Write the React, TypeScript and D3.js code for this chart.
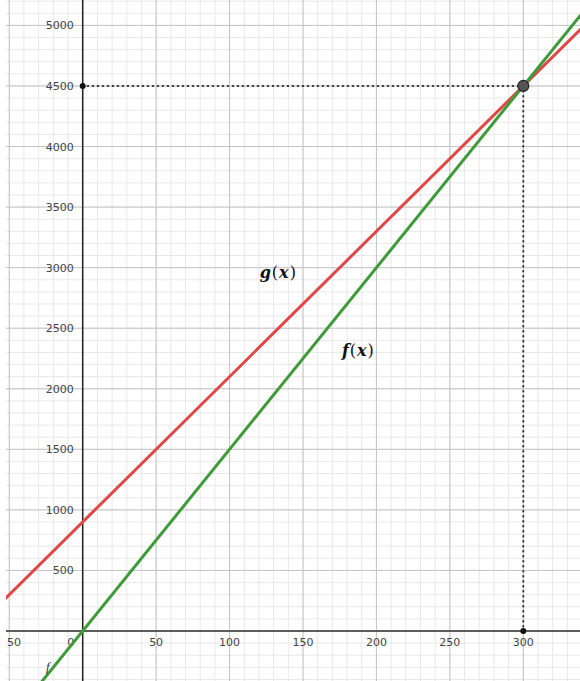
import React, { useEffect, useRef } from 'react'
import * as d3 from 'd3'

const xTicks = [-50, 0, 50, 100, 150, 200, 250, 300]
const yTicks = [500, 1000, 1500, 2000, 2500, 3000, 3500, 4000, 4500, 5000]
// f(x) = 15x, g(x) = 12x + 900
const fLine = [{ x: -60, y: -900 }, { x: 340, y: 5100 }]
const gLine = [{ x: -60, y: 180 }, { x: 340, y: 4980 }]
const meet = { x: 300, y: 4500 }
const labels = [
  { name: 'g', x: 120.5, y: 2915 },
  { name: 'f', x: 176.5, y: 2271 },
]

const W = 580
const H = 681

export default function App() {
  const ref = useRef<SVGSVGElement>(null)

  useEffect(() => {
    const svg = d3.select(ref.current)
    svg.selectAll('*').remove()

    const x = d3.scaleLinear().domain([0, 300]).range([82.7, 523.3])
    const y = d3.scaleLinear().domain([0, 5000]).range([631, 25.4])

    const root = svg.append('g')

    // minor grid
    const minorX = d3.range(-60, 350, 10)
    const minorY = d3.range(-600, 5300, 100)
    root.selectAll('.mx').data(minorX).enter().append('line')
      .attr('x1', d => x(d)).attr('x2', d => x(d))
      .attr('y1', 0).attr('y2', H)
      .attr('stroke', '#e8e8e8').attr('stroke-width', 1)
    root.selectAll('.my').data(minorY).enter().append('line')
      .attr('y1', d => y(d)).attr('y2', d => y(d))
      .attr('x1', 6).attr('x2', W)
      .attr('stroke', '#e8e8e8').attr('stroke-width', 1)

    // major grid
    const majorX = d3.range(-50, 350, 50)
    const majorY = d3.range(-500, 5500, 500)
    root.selectAll('.Mx').data(majorX).enter().append('line')
      .attr('x1', d => x(d)).attr('x2', d => x(d))
      .attr('y1', 0).attr('y2', H)
      .attr('stroke', '#c4c4c4').attr('stroke-width', 1)
    root.selectAll('.My').data(majorY).enter().append('line')
      .attr('y1', d => y(d)).attr('y2', d => y(d))
      .attr('x1', 6).attr('x2', W)
      .attr('stroke', '#c4c4c4').attr('stroke-width', 1)

    // axes
    root.append('line').attr('x1', 6).attr('x2', W)
      .attr('y1', y(0)).attr('y2', y(0))
      .attr('stroke', '#333').attr('stroke-width', 1.5)
    root.append('line').attr('x1', x(0)).attr('x2', x(0))
      .attr('y1', 0).attr('y2', H)
      .attr('stroke', '#222').attr('stroke-width', 1.5)

    // tick labels
    root.selectAll('.xt').data(xTicks).enter().append('text')
      .attr('x', d => (d === 0 ? x(d) - 12 : x(d)))
      .attr('y', y(0) + 15)
      .attr('text-anchor', 'middle')
      .attr('font-family', 'DejaVu Sans, sans-serif')
      .attr('font-size', 11)
      .attr('fill', '#444')
      .text(d => (d < 0 ? '\u2212' + Math.abs(d) : String(d)))
    root.selectAll('.yt').data(yTicks).enter().append('text')
      .attr('x', x(0) - 9)
      .attr('y', d => y(d) + 4)
      .attr('text-anchor', 'end')
      .attr('font-family', 'DejaVu Sans, sans-serif')
      .attr('font-size', 11)
      .attr('fill', '#444')
      .text(d => String(d))

    // dotted guides
    root.append('line')
      .attr('x1', x(0)).attr('x2', x(meet.x))
      .attr('y1', y(meet.y)).attr('y2', y(meet.y))
      .attr('stroke', '#333').attr('stroke-width', 2)
      .attr('stroke-dasharray', '0.5,4.5').attr('stroke-linecap', 'round')
    root.append('line')
      .attr('x1', x(meet.x)).attr('x2', x(meet.x))
      .attr('y1', y(meet.y)).attr('y2', y(0))
      .attr('stroke', '#333').attr('stroke-width', 2)
      .attr('stroke-dasharray', '0.5,4.5').attr('stroke-linecap', 'round')

    const line = d3.line<{ x: number; y: number }>().x(d => x(d.x)).y(d => y(d.y))
    root.append('path').datum(gLine).attr('d', line)
      .attr('fill', 'none').attr('stroke', '#e04848').attr('stroke-width', 3)
    root.append('path').datum(fLine).attr('d', line)
      .attr('fill', 'none').attr('stroke', '#3f9a3a').attr('stroke-width', 3)

    // points
    root.append('circle').attr('cx', x(0)).attr('cy', y(meet.y)).attr('r', 3).attr('fill', '#111')
    root.append('circle').attr('cx', x(meet.x)).attr('cy', y(0)).attr('r', 3).attr('fill', '#111')
    root.append('circle').attr('cx', x(meet.x)).attr('cy', y(meet.y)).attr('r', 5.5)
      .attr('fill', '#555').attr('stroke', '#222').attr('stroke-width', 1.2)

    // function labels
    labels.forEach(l => {
      const t = root.append('text')
        .attr('x', x(l.x)).attr('y', y(l.y))
        .attr('font-family', 'DejaVu Serif, serif')
        .attr('font-size', 16).attr('font-weight', 'bold').attr('fill', '#111')
        .attr('letter-spacing', 1)
      t.append('tspan').attr('font-style', 'italic').text(l.name)
      t.append('tspan').attr('font-weight', 'normal').text('(')
      t.append('tspan').attr('font-style', 'italic').text('x')
      t.append('tspan').attr('font-weight', 'normal').text(')')
    })

    // clipped curve label near the bottom
    root.append('text').attr('x', x(-25)).attr('y', y(-330))
      .attr('font-family', 'Liberation Serif, serif').attr('font-style', 'italic')
      .attr('font-size', 13).attr('fill', '#333').text('f')

    // white margin on the far left
    root.append('rect').attr('x', 0).attr('y', 0).attr('width', 6).attr('height', H).attr('fill', '#fff')
  }, [])

  return (
    <svg ref={ref} width={W} height={H}
      style={{ position: 'absolute', left: 0, top: 0, background: '#fff' }} />
  )
}
